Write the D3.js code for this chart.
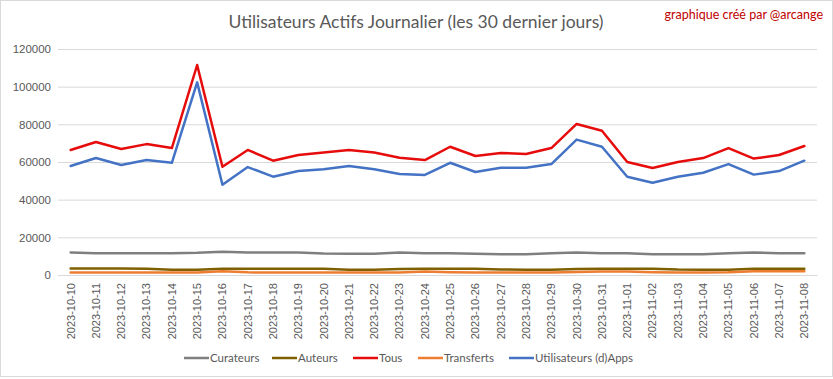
<!DOCTYPE html>
<html>
<head>
<meta charset="utf-8">
<script src="https://cdn.jsdelivr.net/npm/d3@7"></script>
<style>
  html, body { margin: 0; padding: 0; background: #fff; }
  svg { display: block; font-family: Lato, "Open Sans", sans-serif; }
</style>
</head>
<body>
<svg id="chart" width="833" height="379"></svg>
<script>
const dates = ["2023-10-10","2023-10-11","2023-10-12","2023-10-13","2023-10-14","2023-10-15","2023-10-16","2023-10-17","2023-10-18","2023-10-19","2023-10-20","2023-10-21","2023-10-22","2023-10-23","2023-10-24","2023-10-25","2023-10-26","2023-10-27","2023-10-28","2023-10-29","2023-10-30","2023-10-31","2023-11-01","2023-11-02","2023-11-03","2023-11-04","2023-11-05","2023-11-06","2023-11-07","2023-11-08"];

const curateurs = [12000,11500,11500,11500,11500,11800,12400,12000,12000,12000,11400,11300,11300,11900,11500,11500,11300,11000,11000,11500,12000,11600,11500,11000,11000,11000,11500,12000,11500,11500];
const auteurs = [3500,3500,3500,3300,2800,2800,3300,3300,3300,3300,3300,2800,2800,3200,3300,3300,3300,2900,2800,2800,3200,3300,3300,3300,2900,2800,2800,3300,3300,3300];
const tous = [66400,70600,66900,69500,67400,111500,57500,66400,60700,63700,65000,66400,65000,62300,61000,68100,63200,64800,64200,67400,80200,76600,60000,56800,60000,62100,67400,61800,63700,68500];
const transferts = [1300,1300,1300,1300,1300,1300,2000,1400,1300,1300,1300,1300,1300,1300,1900,1500,1300,1300,1300,1300,1600,1800,1800,1500,1300,1300,1500,2000,2000,2000];
const utilisateurs = [57900,62100,58400,61100,59600,102300,47900,57300,52200,55200,56100,57900,56100,53600,53100,59600,54700,57000,57000,58900,71900,68100,52200,49000,52200,54300,58900,53300,55200,60700];

const yTicks = [0,20000,40000,60000,80000,100000,120000];

const series = [
  {name: "Curateurs", values: curateurs, color: "#7f7f7f"},
  {name: "Auteurs", values: auteurs, color: "#7f6000"},
  {name: "Tous", values: tous, color: "#e60c0c"},
  {name: "Transferts", values: transferts, color: "#ed7d31"},
  {name: "Utilisateurs (d)Apps", values: utilisateurs, color: "#4472c4"}
];

const svg = d3.select("#chart");
const W = 833, H = 379;
const mLeft = 58, mRight = 817, mTop = 49, mBottom = 275;

// chart border
svg.append("rect").attr("x", 0.5).attr("y", 0.5).attr("width", W - 1).attr("height", H - 3)
  .attr("fill", "#fff").attr("stroke", "#d9d9d9");

const x = d3.scaleBand().domain(dates).range([mLeft, mRight]).padding(0);
const y = d3.scaleLinear().domain([0, 120000]).range([mBottom, mTop]);

// gridlines + y labels via axis
const yAxis = d3.axisLeft(y).tickValues(yTicks).tickSize(-(mRight - mLeft)).tickFormat(d3.format("d"));
const gy = svg.append("g").attr("transform", `translate(${mLeft},0)`).call(yAxis);
gy.select(".domain").remove();
gy.selectAll(".tick line").attr("stroke", "#d9d9d9").attr("stroke-width", 1);
gy.selectAll(".tick text").attr("fill", "#595959").attr("font-size", "11.5px").attr("x", -7).attr("dy", "0.34em");

// x axis
const xAxis = d3.axisBottom(x).tickSize(0);
const gx = svg.append("g").attr("transform", `translate(0,${mBottom})`).call(xAxis);
gx.select(".domain").attr("stroke", "#d9d9d9");
gx.selectAll(".tick text")
  .attr("fill", "#595959").attr("font-size", "11px")
  .attr("transform", "rotate(-90)")
  .attr("text-anchor", "end")
  .attr("x", -8).attr("y", 0).attr("dy", "0.35em");

// lines
const line = d3.line()
  .x((d, i) => x(dates[i]) + x.bandwidth() / 2)
  .y(d => y(d));

series.forEach(s => {
  svg.append("path").datum(s.values)
    .attr("d", line)
    .attr("fill", "none")
    .attr("stroke", s.color)
    .attr("stroke-width", 2.5)
    .attr("stroke-linejoin", "round")
    .attr("stroke-linecap", "round");
});

// title
svg.append("text").attr("x", 416).attr("y", 28).attr("text-anchor", "middle")
  .attr("fill", "#595959").attr("font-size", "17.5px")
  .text("Utilisateurs Actifs Journalier (les 30 dernier jours)");

svg.append("text").attr("x", 823).attr("y", 19).attr("text-anchor", "end")
  .attr("fill", "#c00000").attr("font-size", "12.5px")
  .text("graphique créé par @arcange");

// legend
const legendX = [184, 272, 353, 418, 509];
const lg = svg.append("g");
series.forEach((s, i) => {
  const g = lg.append("g").attr("transform", `translate(${legendX[i]},358)`);
  g.append("line").attr("x1", 0).attr("x2", 25).attr("y1", 0).attr("y2", 0)
    .attr("stroke", s.color).attr("stroke-width", 2.5);
  g.append("text").attr("x", 26).attr("y", 0).attr("dy", "0.35em")
    .attr("fill", "#595959").attr("font-size", "11.5px").text(s.name);
});
</script>
</body>
</html>
